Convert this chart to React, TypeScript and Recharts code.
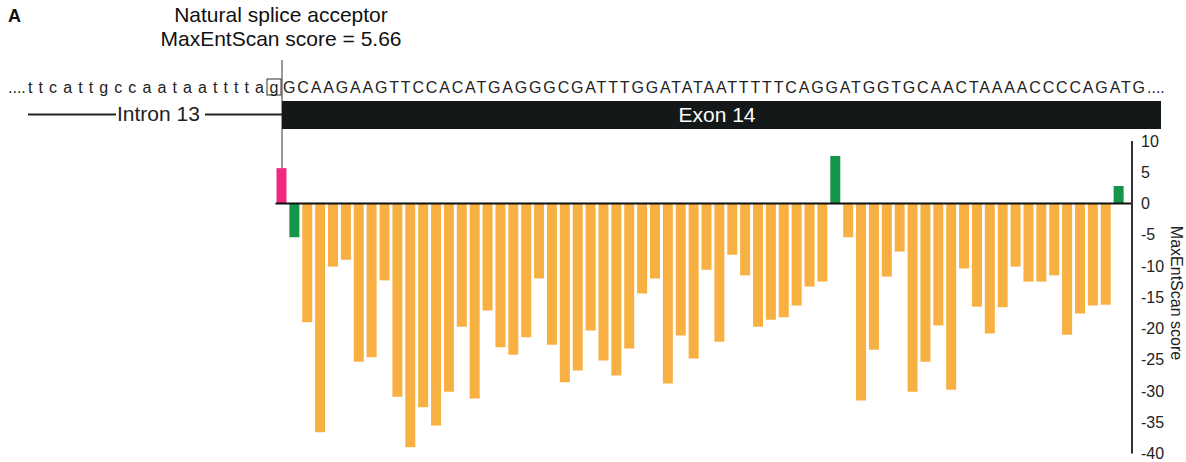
import React from "react";
import { BarChart, Bar, Cell, XAxis, YAxis, ReferenceLine } from "recharts";

// MaxEntScan scores for each candidate acceptor position (intron 13 / exon 14)
const positions = Array.from({ length: 66 }, (_, i) => i + 1);
const scores = [
  5.66, -5.4, -19.0, -36.6, -10.1, -9.0, -25.3, -24.6, -12.3, -30.9, -39.0,
  -32.6, -35.5, -30.1, -19.7, -31.2, -17.1, -23.0, -24.2, -21.4, -12.0, -22.6,
  -28.6, -26.7, -20.3, -25.1, -27.5, -23.2, -14.4, -12.0, -28.8, -21.1, -24.8,
  -10.6, -22.1, -8.2, -11.5, -19.7, -18.6, -18.2, -16.3, -13.3, -12.5, 7.6,
  -5.4, -31.5, -23.4, -11.7, -7.7, -30.1, -25.3, -19.5, -29.8, -10.4, -16.5,
  -20.8, -16.6, -10.1, -12.5, -12.5, -11.5, -21.0, -17.6, -16.3, -16.2, 2.8,
];
const kinds = positions.map((p) =>
  p === 1 ? "natural" : p === 2 || p === 44 || p === 66 ? "positive" : "other"
);
const yTicks = [10, 5, 0, -5, -10, -15, -20, -25, -30, -35, -40];

const intronSeq = "ttcattgccaataatttta";
const exonSeq =
  "GCAAGAAGTTCCACATGAGGGCGATTTGGATATAATTTTTCAGGATGGTGCAACTAAAACCCCAGATG";

const colors: Record<string, string> = {
  natural: "#EF2A7E",
  positive: "#13954A",
  other: "#F9B043",
};

const font = "'Liberation Sans', Arial, sans-serif";

const data = positions.map((p, i) => ({ pos: p, score: scores[i], kind: kinds[i] }));

export default function App() {
  return (
    <div style={{ position: "absolute", left: 0, top: 0, width: 1186, height: 462, background: "#fff", fontFamily: font }}>
      <BarChart
        width={1186}
        height={462}
        data={data}
        margin={{ top: 141, right: 0, bottom: 8.5, left: 275.5 }}
      >
        <XAxis dataKey="pos" hide padding={{ left: 0, right: 6.5 }} />
        <YAxis
          orientation="right"
          width={54}
          domain={[-40, 10]}
          ticks={yTicks}
          interval={0}
          axisLine={{ stroke: "#333", strokeWidth: 2 }}
          tickLine={false}
          tickSize={6}
          tickMargin={3}
          tick={{ fill: "#222", fontSize: 16, fontFamily: font, textAnchor: "start" }}
        />
        <Bar dataKey="score" barSize={10} isAnimationActive={false}>
          {data.map((d) => (
            <Cell key={d.pos} fill={colors[d.kind]} />
          ))}
        </Bar>
        <ReferenceLine y={0} stroke="#111" strokeWidth={2} />
      </BarChart>

      <svg
        width={1186}
        height={462}
        style={{ position: "absolute", left: 0, top: 0, pointerEvents: "none" }}
      >
        <text x={8} y={22} fontSize={18} fontWeight="bold" fill="#111" fontFamily={font}>A</text>
        <text x={281} y={22} fontSize={21} fill="#111" textAnchor="middle" fontFamily={font}>
          Natural splice acceptor
        </text>
        <text x={281} y={46} fontSize={21} fill="#111" textAnchor="middle" fontFamily={font}>
          MaxEntScan score = 5.66
        </text>
        <line x1={282} y1={60} x2={282} y2={168} stroke="#555" strokeWidth={1.2} />

        {/* sequence row */}
        <text x={8} y={93} fontSize={16} fill="#222" fontFamily={font}>....</text>
        <text x={28} y={93} fontSize={16} fill="#222" fontFamily={font} textLength={236} lengthAdjust="spacing">
          {intronSeq}
        </text>
        <rect x={267} y={79} width={14} height={16} fill="none" stroke="#333" strokeWidth={1} />
        <text x={274} y={93} fontSize={16} fill="#222" textAnchor="middle" fontFamily={font}>g</text>
        <text x={283} y={93} fontSize={16} fill="#222" fontFamily={font} textLength={862} lengthAdjust="spacing">
          {exonSeq}
        </text>
        <text x={1147} y={93} fontSize={16} fill="#222" fontFamily={font}>....</text>

        {/* gene structure */}
        <line x1={28} y1={114.5} x2={116} y2={114.5} stroke="#222" strokeWidth={2} />
        <text x={117} y={121} fontSize={21} fill="#222" fontFamily={font}>Intron 13</text>
        <line x1={205} y1={114.5} x2={282} y2={114.5} stroke="#222" strokeWidth={2} />
        <rect x={282} y={101} width={879} height={28} fill="#141819" />
        <text x={717} y={122} fontSize={21} fill="#fff" textAnchor="middle" fontFamily={font}>Exon 14</text>

        {/* y axis title */}
        <text
          x={1171}
          y={293}
          fontSize={16}
          fill="#222"
          textAnchor="middle"
          fontFamily={font}
          transform="rotate(90 1171 293)"
        >
          MaxEntScan score
        </text>
      </svg>
    </div>
  );
}
